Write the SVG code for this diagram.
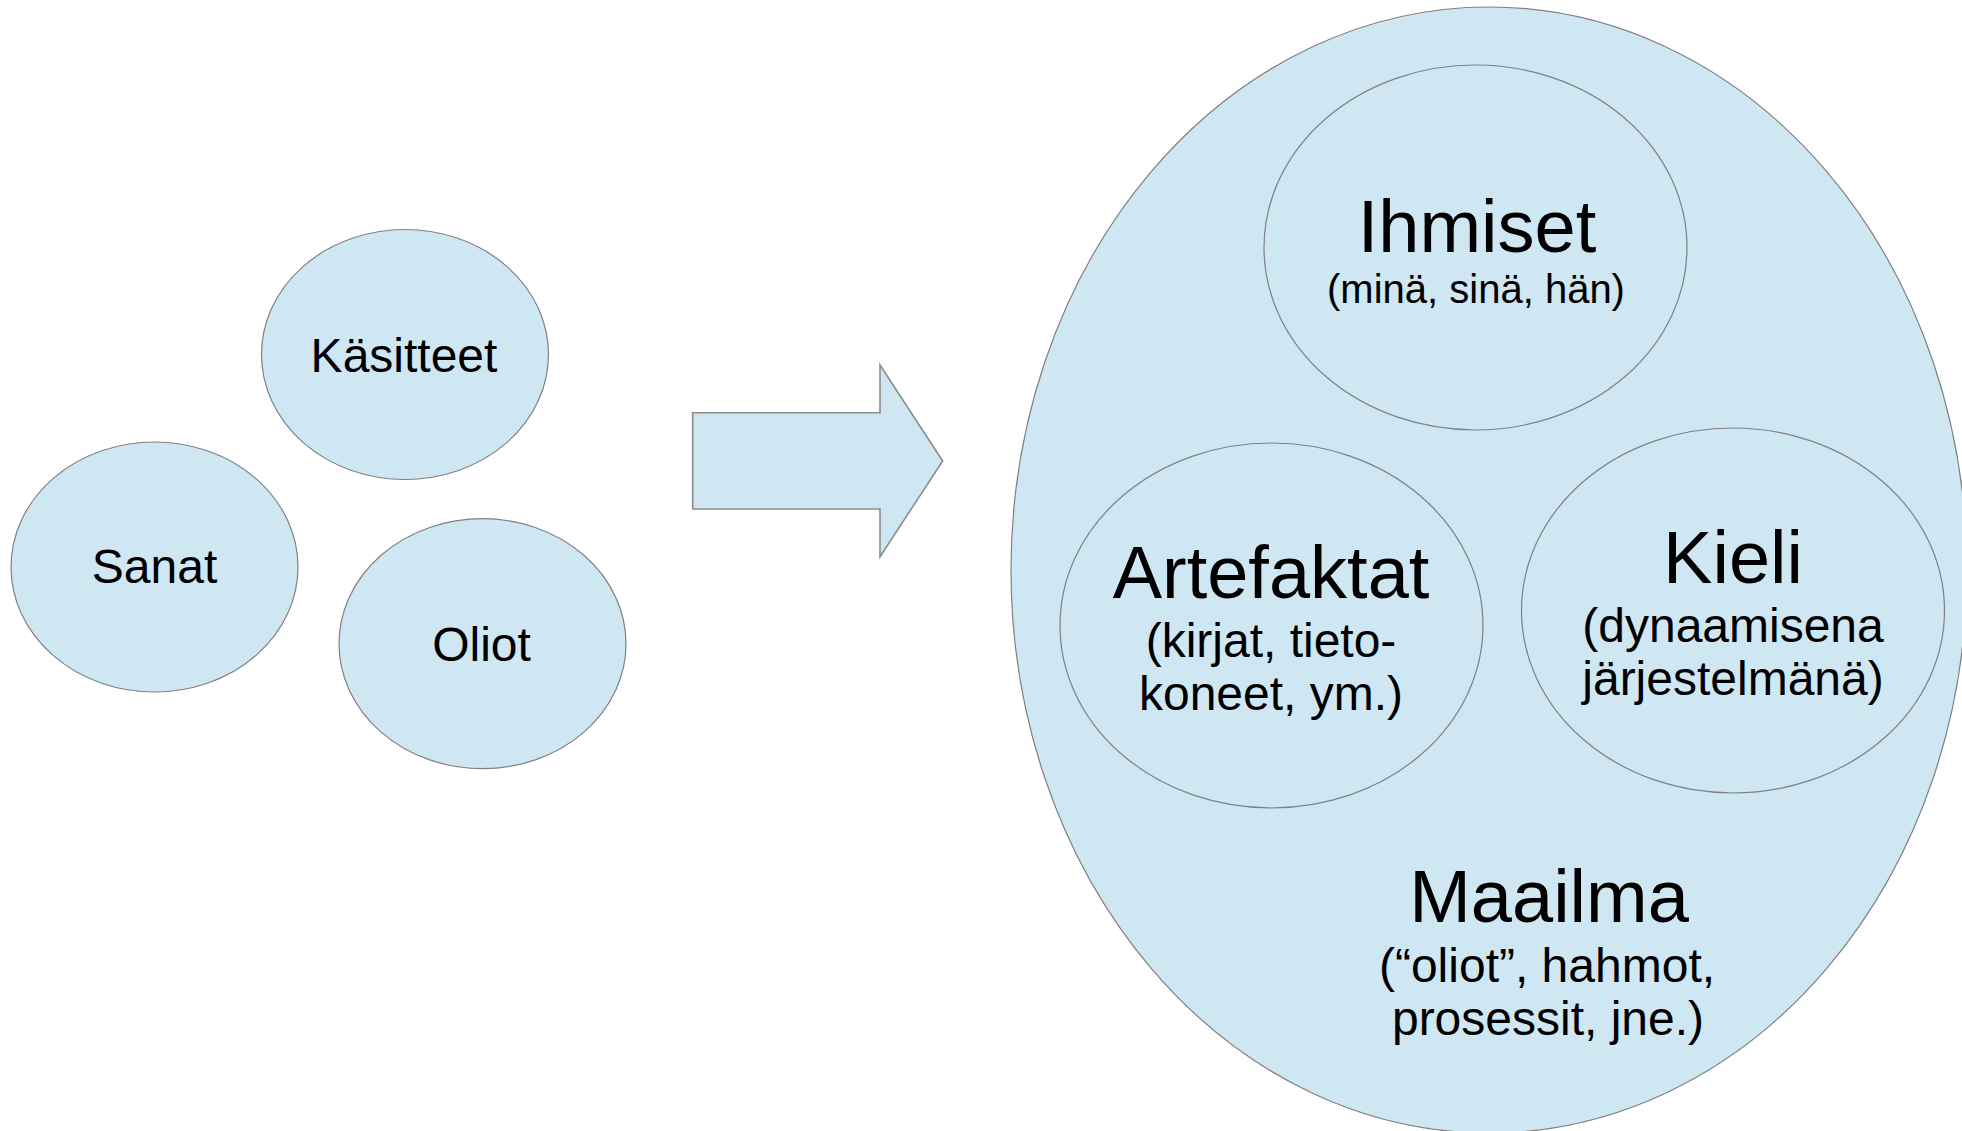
<svg xmlns="http://www.w3.org/2000/svg" width="1962" height="1131" viewBox="0 0 1962 1131">
  <style>
    .bub { fill: #cfe6f3; stroke: #808080; stroke-width: 1.2; }
    .t { font-family: "Liberation Sans", Arial, sans-serif; fill: #000; text-anchor: middle; }
    .s48 { font-size: 48px; }
    .s72 { font-size: 74px; }
    .s40 { font-size: 40px; }
  </style>
  <rect width="1962" height="1131" fill="#ffffff"/>

  <g id="kasitteet">
    <ellipse class="bub" cx="405" cy="354.5" rx="143.5" ry="125"/>
    <text class="t s48" x="404" y="372">Käsitteet</text>
  </g>
  <g id="sanat">
    <ellipse class="bub" cx="154.5" cy="567" rx="143.5" ry="125"/>
    <text class="t s48" x="154.5" y="583">Sanat</text>
  </g>
  <g id="oliot">
    <ellipse class="bub" cx="482.5" cy="643.7" rx="143.5" ry="125"/>
    <text class="t s48" x="481.5" y="661">Oliot</text>
  </g>

  <g id="connectors">
    <polygon id="arrow" points="692.7,412.7 880,412.7 880,365 942.7,461 880,556.7 880,509 692.7,509" fill="#cfe6f3" stroke="#8c8c8c" stroke-width="1.6" stroke-linejoin="miter"/>
  </g>

  <g id="maailma">
    <ellipse class="bub" cx="1489" cy="570" rx="478" ry="563"/>
    <text class="t s72" x="1549" y="922">Maailma</text>
    <text class="t s48" x="1547" y="982">(“oliot”, hahmot,</text>
    <text class="t s48" x="1548" y="1035">prosessit, jne.)</text>
  </g>

  <g id="ihmiset">
    <ellipse class="bub" cx="1475.5" cy="247.5" rx="211.5" ry="182.5"/>
    <text class="t s72" x="1477" y="252">Ihmiset</text>
    <text class="t s40" x="1476" y="303">(minä, sinä, hän)</text>
  </g>

  <g id="artefaktat">
    <ellipse class="bub" cx="1271.5" cy="625.5" rx="211.5" ry="182.5"/>
    <text class="t s72" x="1271" y="598">Artefaktat</text>
    <text class="t s48" x="1271" y="657">(kirjat, tieto-</text>
    <text class="t s48" x="1271" y="710">koneet, ym.)</text>
  </g>

  <g id="kieli">
    <ellipse class="bub" cx="1733" cy="610.5" rx="211.5" ry="182.5"/>
    <text class="t s72" x="1733" y="583">Kieli</text>
    <text class="t s48" x="1733" y="642">(dynaamisena</text>
    <text class="t s48" x="1733" y="695">järjestelmänä)</text>
  </g>
</svg>
